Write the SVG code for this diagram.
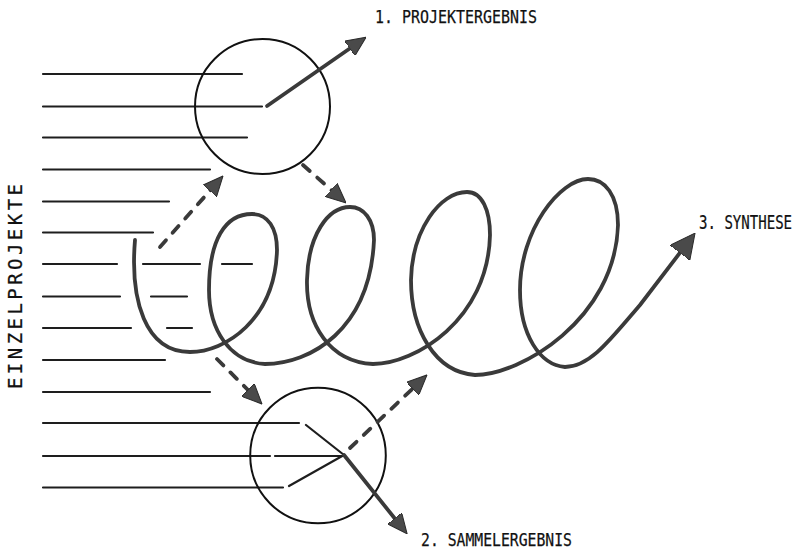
<svg xmlns="http://www.w3.org/2000/svg" width="799" height="550" viewBox="0 0 799 550">
<style>
.bg{fill:#ffffff}
.ln{stroke:#1e1e1e;stroke-width:2.2;fill:none;stroke-linecap:round}
.circ{stroke:#111;stroke-width:2;fill:none}
.thick{stroke:#3a3a3a;stroke-width:3.8;fill:none;stroke-linecap:round;stroke-linejoin:round}
.dash{stroke-dasharray:9 10}
.lbl{font-family:"DejaVu Sans Mono","Liberation Mono",monospace;fill:#111;stroke:#111;stroke-width:0.25}
</style>
<defs>
<marker id="ah" viewBox="0 0 20 18" markerWidth="20" markerHeight="18" markerUnits="userSpaceOnUse" refX="15" refY="9" orient="auto">
<path d="M0,0 L20,9 L0,18 Z" fill="#4a4a4a" stroke="#2a2a2a" stroke-width="1"/>
</marker>
<marker id="ahb" viewBox="0 0 25 25" markerWidth="25" markerHeight="25" markerUnits="userSpaceOnUse" refX="20" refY="12.5" orient="auto">
<path d="M0,0 L25,12.5 L0,25 Z" fill="#4a4a4a" stroke="#2a2a2a" stroke-width="1"/>
</marker>
</defs>
<rect class="bg" x="0" y="0" width="799" height="550"/>

<g id="einzelprojekte">
<text class="lbl" font-size="19" transform="translate(22,389) rotate(-90)" x="0" y="0" textLength="205" lengthAdjust="spacing">EINZELPROJEKTE</text>
<path class="ln" d="M43,74 H242 M43,106.5 H262 M43,137.5 H247 M43,169.5 H210 M43,201.5 H169 M43,232.5 H153
M43,264 H117 M143,264 H200 M222,264 H252
M43,296.5 H120 M151,296.5 H187
M43,328 H131 M167,328 H192
M43,360 H165 M43,392 H210
M43,423 H299 M43,456 H270 M275,456 H344 M43,487.5 H283
M289,486 L344,455 M306,425 L344,455"/>
</g>

<g id="projektergebnis">
<circle class="circ" cx="262.5" cy="106.5" r="67.5"/>
<text class="lbl" x="375" y="23" font-size="18" textLength="162" lengthAdjust="spacingAndGlyphs">1. PROJEKTERGEBNIS</text>
</g>

<g id="sammelergebnis">
<circle class="circ" cx="318" cy="455.5" r="67.8"/>
<text class="lbl" x="421" y="546" font-size="17.5" textLength="151" lengthAdjust="spacingAndGlyphs">2. SAMMELERGEBNIS</text>
</g>

<g id="synthese">
<text class="lbl" font-size="19" transform="translate(699,229) scale(0.74,1)" x="0" y="0">3. SYNTHESE</text>
</g>

<g id="connectors">
<path id="spiral" class="thick" marker-end="url(#ahb)" d="M135,240
C130,300 145,352 190,352
C225,352 275,320 277,250
C277,228 268,214 252,214
C225,214 209,240 209,290
C209,330 230,362 265,364
C310,364 370,330 374,240
C374,220 364,207 350,207
C328,207 308,235 307,280
C306,325 330,362 373,364
C415,364 488,320 490,235
C490,210 482,192 467,192
C440,192 412,230 411,280
C411,330 435,372 475,375
C520,375 615,320 618,225
C618,195 605,179 588,179
C560,179 520,230 520,290
C520,335 540,365 565,367
C590,367 610,340 640,305
L692,237"/>
<path class="thick" marker-end="url(#ah)" d="M267,106 L362,40"/>
<path class="thick" marker-end="url(#ah)" d="M344,455 L404,530"/>
<path class="thick dash" marker-end="url(#ah)" d="M160,247 L219.7,179.7"/>
<path class="thick dash" marker-end="url(#ah)" d="M303,165 L342.3,199.7"/>
<path class="thick dash" marker-end="url(#ah)" d="M217,359 L258.5,400.5"/>
<path class="thick dash" marker-end="url(#ah)" d="M350,448 L423.4,378.4"/>
</g>
</svg>
